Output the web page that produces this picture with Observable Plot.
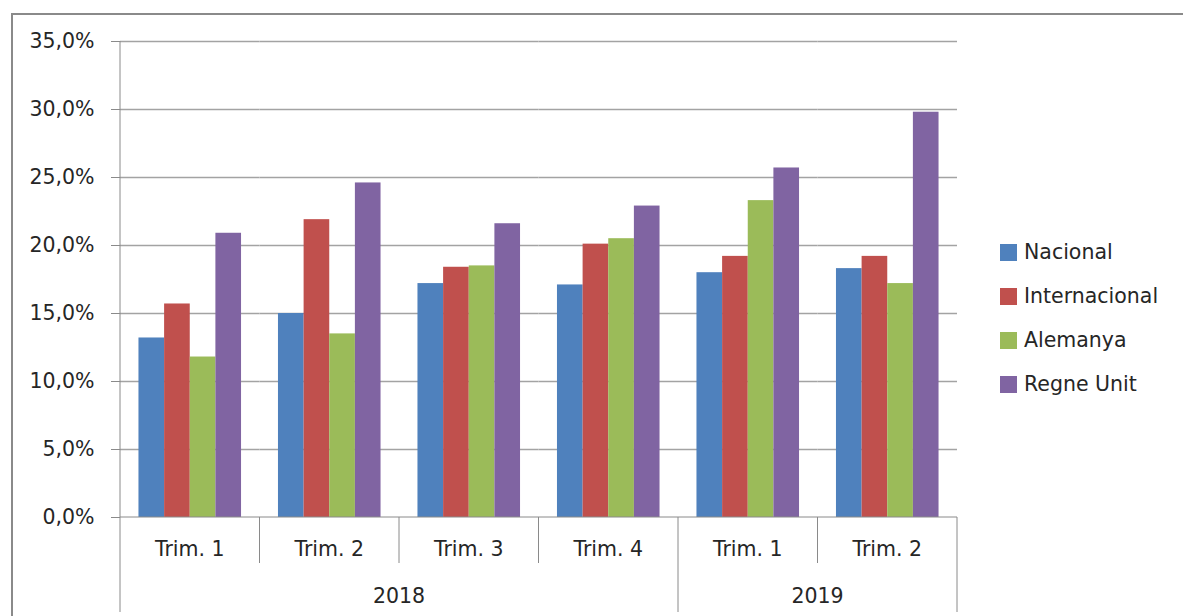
<!DOCTYPE html>
<html><head><meta charset="utf-8">
<script src="https://cdn.jsdelivr.net/npm/d3@7"></script>
<script src="https://cdn.jsdelivr.net/npm/@observablehq/plot@0.6"></script>
<style>
body{margin:0;background:#fff;}
#wrap{position:relative;width:1183px;height:616px;overflow:hidden;font-family:"DejaVu Sans",sans-serif;}
#wrap svg{position:absolute;left:0;top:0;}
#border{position:absolute;left:11px;top:13px;width:1300px;height:700px;border-left:2px solid #8a8a8a;border-top:2px solid #8a8a8a;z-index:2;pointer-events:none;}
#legend{position:absolute;left:1000px;top:230px;z-index:3;}
.item{display:flex;align-items:center;height:44px;font-size:20.5px;color:#262626;white-space:nowrap;}
.sw{width:17px;height:17px;margin-right:7px;flex:none;}
</style></head><body><div id="wrap"><div id="border"></div><div id="legend"></div></div>
<script>
// ---- data ----
const years = ["2018","2018","2018","2018","2019","2019"];
const quarters = ["Trim. 1","Trim. 2","Trim. 3","Trim. 4","Trim. 1","Trim. 2"];
const seriesNames = ["Nacional","Internacional","Alemanya","Regne Unit"];
const seriesColors = ["#4f81bd","#c0504d","#9bbb59","#8064a2"];
const nacional      = [13.2, 15.0, 17.2, 17.1, 18.0, 18.3];
const internacional = [15.7, 21.9, 18.4, 20.1, 19.2, 19.2];
const alemanya      = [11.8, 13.5, 18.5, 20.5, 23.3, 17.2];
const regneUnit     = [20.9, 24.6, 21.6, 22.9, 25.7, 29.8];
const yTicks = [0, 5, 10, 15, 20, 25, 30, 35];

// ---- build table ----
const periods = years.map((y, i) => y + "|" + quarters[i]);
const seriesValues = [nacional, internacional, alemanya, regneUnit];
const rows = [];
periods.forEach((p, i) => seriesNames.forEach((s, j) => rows.push({period: p, series: s, value: seriesValues[j][i]})));
const fmt = d => d.toFixed(1).replace(".", ",") + "%";
const FONT = "DejaVu Sans";
const FS = "20.5px";
const GRAY = "#8a8a8a";

const plot = Plot.plot({
  width: 1183, height: 616,
  marginLeft: 120, marginRight: 226, marginTop: 41, marginBottom: 99,
  style: {fontFamily: FONT, fontSize: FS, color: "#262626", background: "transparent"},
  fx: {domain: periods, padding: 0, round: false, axis: null},
  x: {domain: seriesNames, paddingInner: 0, paddingOuter: 0.72, round: false, axis: null},
  y: {domain: [0, 35], axis: null},
  color: {domain: seriesNames, range: seriesColors},
  marks: [
    Plot.ruleY(yTicks.slice(1), {stroke: "#a3a3a3", strokeWidth: 1.5}),
    Plot.barY(rows, {fx: "period", x: "series", y: "value", fill: "series"}),
    Plot.axisY({ticks: yTicks, tickSize: 9, tickPadding: 17, tickFormat: fmt, label: null, color: "#262626", fontSize: FS})
  ]
});
document.getElementById("wrap").appendChild(plot);

const svg = d3.select(plot);
svg.selectAll("g[aria-label='y-axis tick'] path").attr("stroke", GRAY);

const fx = plot.scale("fx");
const ys = plot.scale("y");
const y0 = ys.apply(0), yTop = ys.apply(35);
const bw = fx.bandwidth;
const left = fx.apply(periods[0]);
const right = fx.apply(periods[periods.length - 1]) + bw;

const g = svg.append("g").attr("font-family", FONT).attr("font-size", FS);
// y axis line & baseline
g.append("line").attr("x1", left).attr("x2", left).attr("y1", yTop).attr("y2", y0).attr("stroke", GRAY);
g.append("line").attr("x1", left).attr("x2", right).attr("y1", y0).attr("y2", y0).attr("stroke", GRAY);
// dividers
periods.forEach((p, i) => {
  const x = fx.apply(p);
  const outer = i === 0 || years[i] !== years[i - 1];
  g.append("line").attr("x1", x).attr("x2", x).attr("y1", y0).attr("y2", y0 + (outer ? 95 : 46)).attr("stroke", GRAY);
});
g.append("line").attr("x1", right).attr("x2", right).attr("y1", y0).attr("y2", y0 + 95).attr("stroke", GRAY);
// quarter labels
periods.forEach((p, i) => {
  g.append("text").attr("x", fx.apply(p) + bw / 2).attr("y", y0 + 32).attr("dy", "0.35em")
    .attr("text-anchor", "middle").attr("fill", "#262626").text(quarters[i]);
});
// year labels
const uniqueYears = [...new Set(years)];
uniqueYears.forEach(yr => {
  const idx = periods.filter((p, i) => years[i] === yr);
  const x1 = fx.apply(idx[0]), x2 = fx.apply(idx[idx.length - 1]) + bw;
  g.append("text").attr("x", (x1 + x2) / 2).attr("y", y0 + 79).attr("dy", "0.35em")
    .attr("text-anchor", "middle").attr("fill", "#262626").text(yr);
});

// legend
const lg = d3.select("#legend");
seriesNames.forEach((s, i) => {
  const it = lg.append("div").attr("class", "item");
  it.append("div").attr("class", "sw").style("background", seriesColors[i]);
  it.append("span").text(s);
});
</script></body></html>
